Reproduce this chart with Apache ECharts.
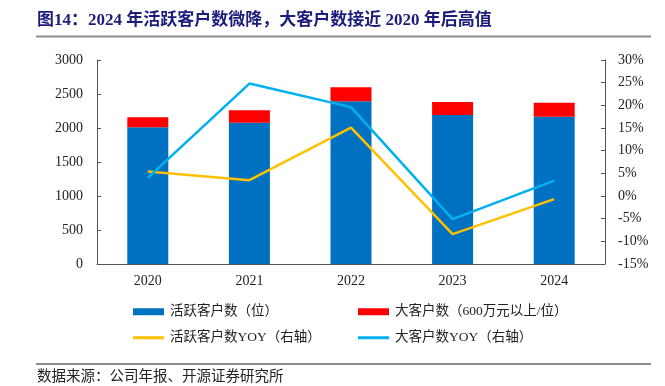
<!DOCTYPE html>
<html>
<head>
<meta charset="utf-8">
<script src="https://cdn.jsdelivr.net/npm/echarts@6/dist/echarts.min.js"></script>
<style>html,body{margin:0;padding:0;background:#fff;}#c{width:665px;height:386px;}</style>
</head>
<body>
<div id="c"></div>
<script>
const categories = ['2020', '2021', '2022', '2023', '2024'];
const activeCustomers = [2010, 2078, 2395, 2191, 2166];
const bigCustomers = [147, 182, 203, 191, 206];
const activeYoy = [5.4, 3.5, 15.1, -8.4, -0.7];
const bigYoy = [4.0, 24.8, 19.6, -5.1, 3.4];
const leftTicks = { min: 0, max: 3000, interval: 500 };
const rightTicks = { min: -15, max: 30, interval: 5 };

const names = ['活跃客户数（位）', '大客户数（600万元以上/位）', '活跃客户数YOY（右轴）', '大客户数YOY（右轴）'];
const serif = 'Liberation Serif, Noto Sans CJK SC';
const axisColor = '#555';
const txt = { color: '#222', fontFamily: serif, fontSize: 14 };

function lg(name, left, top, h) {
  return { data: [{ name: name, icon: 'rect' }], left: left, top: top, itemWidth: 31, itemHeight: h, itemGap: 0, padding: 0,
    textStyle: { color: '#222', fontFamily: serif, fontSize: 13.5, padding: [0, 0, 0, 1] } };
}

const chart = echarts.init(document.getElementById('c'));
chart.setOption({
  animation: false,
  title: {
    text: '图14：2024 年活跃客户数微降，大客户数接近 2020 年后高值',
    left: 37, top: 12, padding: 0,
    textStyle: { color: '#1c1c7c', fontFamily: serif, fontWeight: 'bold', fontSize: 17 }
  },
  graphic: [
    { type: 'line', shape: { x1: 36, y1: 36.5, x2: 651, y2: 36.5 }, style: { stroke: '#8c8c8c', lineWidth: 2 } },
    { type: 'line', shape: { x1: 36, y1: 364, x2: 651, y2: 364 }, style: { stroke: '#8c8c8c', lineWidth: 2 } },
    { type: 'text', left: 37, top: 370, style: { text: '数据来源：公司年报、开源证券研究所', fill: '#222', font: '14.5px ' + serif } }
  ],
  legend: [
    lg(names[0], 133, 305, 7),
    lg(names[1], 358, 305, 7),
    lg(names[2], 133, 331, 3),
    lg(names[3], 358, 331, 3)
  ],
  grid: { left: 97, right: 60, top: 60, bottom: 122 },
  xAxis: {
    type: 'category', data: categories,
    axisLine: { lineStyle: { color: axisColor } },
    axisTick: { inside: true, length: 4, lineStyle: { color: axisColor } },
    axisLabel: Object.assign({}, txt, { margin: 10 })
  },
  yAxis: [
    { type: 'value', min: leftTicks.min, max: leftTicks.max, interval: leftTicks.interval,
      axisLine: { show: true, lineStyle: { color: axisColor } },
      axisTick: { show: true, inside: true, length: 4, lineStyle: { color: axisColor } },
      splitLine: { show: false },
      axisLabel: Object.assign({}, txt, { margin: 14, formatter: function (v) { return String(v); } }) },
    { type: 'value', min: rightTicks.min, max: rightTicks.max, interval: rightTicks.interval,
      axisLine: { show: true, lineStyle: { color: axisColor } },
      axisTick: { show: true, inside: true, length: 4, lineStyle: { color: axisColor } },
      splitLine: { show: false },
      axisLabel: Object.assign({}, txt, { margin: 13, formatter: '{value}%' }) }
  ],
  series: [
    { name: names[0], type: 'bar', stack: 's', data: activeCustomers, barWidth: 41, itemStyle: { color: '#0070C0' } },
    { name: names[1], type: 'bar', stack: 's', data: bigCustomers, barWidth: 41, itemStyle: { color: '#FF0000' } },
    { name: names[2], type: 'line', yAxisIndex: 1, data: activeYoy, showSymbol: false, symbol: 'none',
      lineStyle: { color: '#FFC000', width: 2.5 }, itemStyle: { color: '#FFC000' } },
    { name: names[3], type: 'line', yAxisIndex: 1, data: bigYoy, showSymbol: false, symbol: 'none',
      lineStyle: { color: '#00B0F0', width: 2.5 }, itemStyle: { color: '#00B0F0' } }
  ]
});
</script>
</body>
</html>
